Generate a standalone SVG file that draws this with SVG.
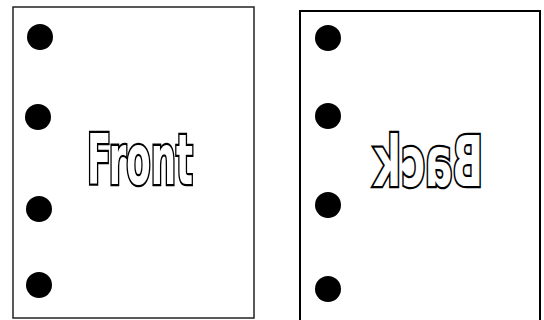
<svg xmlns="http://www.w3.org/2000/svg" width="544" height="320" viewBox="0 0 544 320">
<style>
.page{fill:#fff}
.hole{fill:#000}
.label{font-family:"DejaVu Sans","Liberation Sans",sans-serif;font-weight:bold;font-stretch:condensed;font-size:69px;fill:#fff;stroke:#000;stroke-width:4.6;stroke-linejoin:miter;paint-order:stroke;text-anchor:middle}
</style>
<rect width="544" height="320" fill="#fff"/>
<g id="front">
<rect class="page" x="13" y="7" width="241" height="311" stroke="#222" stroke-width="1.5"/>
<circle class="hole" cx="40" cy="37" r="13"/>
<circle class="hole" cx="38" cy="117" r="13"/>
<circle class="hole" cx="39" cy="209" r="13"/>
<circle class="hole" cx="39" cy="285" r="13"/>
<text class="label" x="140" y="184" textLength="106" lengthAdjust="spacingAndGlyphs">Front</text>
</g>
<g id="back">
<rect class="page" x="300" y="11" width="240" height="320" stroke="#000" stroke-width="2"/>
<circle class="hole" cx="328" cy="38" r="13"/>
<circle class="hole" cx="328" cy="116" r="13"/>
<circle class="hole" cx="328" cy="205" r="13"/>
<circle class="hole" cx="328" cy="289" r="13"/>
<text class="label" x="428.5" y="186" textLength="109" lengthAdjust="spacingAndGlyphs" transform="translate(857,0) scale(-1,1)">Back</text>
</g>
<g id="connectors"/>
</svg>
